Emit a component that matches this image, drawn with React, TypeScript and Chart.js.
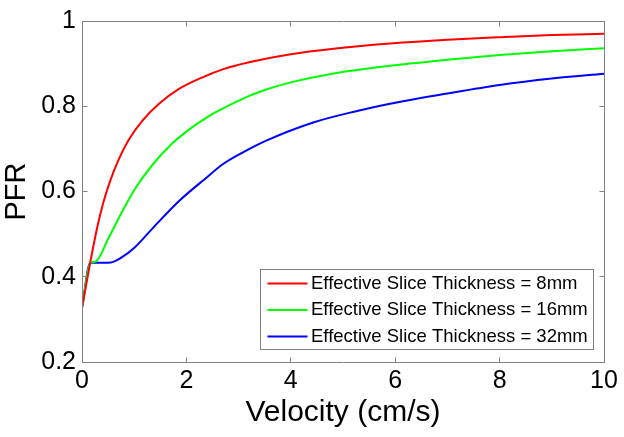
import React, { useEffect, useRef } from 'react';
import { Chart, registerables } from 'chart.js';

Chart.register(...registerables);

// ---- Data ----
const redX = [0, 0.16, 0.29, 0.41, 0.54, 0.7, 0.89, 1.15, 1.47, 1.85, 2.33, 2.71, 3.16, 4.0, 4.82, 5.9, 7.0, 8.0, 9.0, 10];
const redY = [0.327, 0.435, 0.515, 0.575, 0.625, 0.674, 0.72, 0.765, 0.805, 0.84, 0.869, 0.887, 0.902, 0.922, 0.935, 0.947, 0.956, 0.962, 0.967, 0.97];

const greenX = [0, 0.16, 0.25, 0.51, 0.77, 1.02, 1.34, 1.72, 2.07, 2.36, 2.52, 3.16, 3.5, 4.0, 4.82, 5.9, 7.0, 8.0, 9.0, 10];
const greenY = [0.327, 0.433, 0.435, 0.491, 0.553, 0.607, 0.661, 0.712, 0.747, 0.771, 0.783, 0.822, 0.838, 0.856, 0.877, 0.895, 0.909, 0.92, 0.929, 0.936];

const blueX = [0, 0.16, 0.5, 0.6, 0.73, 1.02, 1.4, 1.88, 2.36, 2.71, 3.1, 3.54, 4.43, 5.27, 5.9, 7.0, 8.0, 9.0, 10];
const blueY = [0.327, 0.433, 0.433, 0.435, 0.443, 0.47, 0.52, 0.58, 0.63, 0.665, 0.693, 0.72, 0.762, 0.789, 0.806, 0.83, 0.85, 0.865, 0.876];

const seriesLabels = [
  'Effective Slice Thickness = 8mm',
  'Effective Slice Thickness = 16mm',
  'Effective Slice Thickness = 32mm',
];
const seriesColors = ['#ff0000', '#00ff00', '#0000ff'];

const xTickValues = [0, 2, 4, 6, 8, 10];
const xTickLabels = ['0', '2', '4', '6', '8', '10'];
const yTickValues = [0.2, 0.4, 0.6, 0.8, 1];
const yTickLabels = ['0.2', '0.4', '0.6', '0.8', '1'];

const xTitle = 'Velocity (cm/s)';
const yTitle = 'PFR';

// ---- Styles ----
const FONT = '"Liberation Sans", Arial, Helvetica, sans-serif';
const AXIS_COLOR = '#808080';
const TICK_LEN = 5;

const toPoints = (xs: number[], ys: number[]) => xs.map((x, i) => ({ x, y: ys[i] }));

const boxPlugin = {
  id: 'matlabBox',
  afterDraw(chart: any) {
    const { ctx, chartArea: a, scales } = chart;
    const xs = scales.x;
    const ys = scales.y;
    const L = Math.floor(a.left) + 0.5;
    const R = Math.floor(a.right) + 0.5;
    const T = Math.floor(a.top) + 0.5;
    const B = Math.floor(a.bottom) + 0.5;
    ctx.save();
    ctx.strokeStyle = AXIS_COLOR;
    ctx.lineWidth = 1;
    ctx.beginPath();
    ctx.rect(L, T, R - L, B - T);
    xTickValues.forEach((v) => {
      const px = Math.floor(xs.getPixelForValue(v)) + 0.5;
      ctx.moveTo(px, B);
      ctx.lineTo(px, B - TICK_LEN);
      ctx.moveTo(px, T);
      ctx.lineTo(px, T + TICK_LEN);
    });
    yTickValues.forEach((v) => {
      const py = Math.floor(ys.getPixelForValue(v)) + 0.5;
      ctx.moveTo(L, py);
      ctx.lineTo(L + TICK_LEN, py);
      ctx.moveTo(R, py);
      ctx.lineTo(R - TICK_LEN, py);
    });
    ctx.stroke();

    // Legend box inside the axes (lower right)
    ctx.font = `18.5px ${FONT}`;
    const labels: string[] = chart.data.datasets.map((d: any) => d.label);
    const maxW = Math.max(...labels.map((l) => ctx.measureText(l).width));
    const w = 50.7 + maxW + 6;
    const h = 80;
    const right = a.right - 10;
    const bottom = a.bottom - 13;
    const left = Math.floor(right - w) + 0.5;
    const top = Math.floor(bottom - h) + 0.5;
    ctx.fillStyle = '#ffffff';
    ctx.fillRect(left, top, Math.round(w), h);
    ctx.strokeStyle = AXIS_COLOR;
    ctx.strokeRect(left, top, Math.round(w), h);
    chart.data.datasets.forEach((d: any, i: number) => {
      const y = top + 14 + i * 26.5;
      ctx.strokeStyle = d.borderColor;
      ctx.lineWidth = 2;
      ctx.beginPath();
      ctx.moveTo(left + 7, y);
      ctx.lineTo(left + 47, y);
      ctx.stroke();
      ctx.fillStyle = '#000000';
      ctx.textBaseline = 'middle';
      ctx.textAlign = 'left';
      ctx.fillText(d.label, left + 50.5, y);
    });
    ctx.restore();
  },
};

export default function App() {
  const canvasRef = useRef<HTMLCanvasElement | null>(null);

  useEffect(() => {
    if (!canvasRef.current) return;
    const chart = new Chart(canvasRef.current, {
      type: 'line',
      data: {
        datasets: [
          { label: seriesLabels[0], data: toPoints(redX, redY), borderColor: seriesColors[0] },
          { label: seriesLabels[1], data: toPoints(greenX, greenY), borderColor: seriesColors[1] },
          { label: seriesLabels[2], data: toPoints(blueX, blueY), borderColor: seriesColors[2] },
        ].map((d) => ({
          ...d,
          borderWidth: 2,
          pointRadius: 0,
          fill: false,
          cubicInterpolationMode: 'monotone' as const,
        })),
      },
      options: {
        responsive: false,
        animation: false,
        devicePixelRatio: 1,
        layout: { padding: { top: 17, right: 20, left: 0, bottom: 0 } },
        plugins: {
          legend: { display: false },
          tooltip: { enabled: false },
        },
        scales: {
          x: {
            type: 'linear',
            min: 0,
            max: 10,
            afterBuildTicks: (s: any) => {
              s.ticks = xTickValues.map((v) => ({ value: v }));
            },
            afterFit: (s: any) => {
              s.height = 75;
            },
            grid: { display: false, drawTicks: false },
            border: { display: false },
            ticks: {
              padding: 4,
              color: '#000000',
              maxRotation: 0,
              autoSkip: false,
              font: { family: FONT, size: 25 },
              callback: (_v: any, i: number) => xTickLabels[i],
            },
            title: {
              display: true,
              text: xTitle,
              color: '#000000',
              font: { family: FONT, size: 30 },
              padding: { top: 0, bottom: 6 },
            },
          },
          y: {
            type: 'linear',
            min: 0.2,
            max: 1,
            afterBuildTicks: (s: any) => {
              s.ticks = yTickValues.map((v) => ({ value: v }));
            },
            afterFit: (s: any) => {
              s.width = 82;
            },
            grid: { display: false, drawTicks: false },
            border: { display: false },
            ticks: {
              padding: 6,
              color: '#000000',
              autoSkip: false,
              font: { family: FONT, size: 25 },
              callback: (_v: any, i: number) => yTickLabels[i],
            },
            title: {
              display: true,
              text: yTitle,
              color: '#000000',
              font: { family: FONT, size: 29 },
              padding: { top: 0, bottom: 0 },
            },
          },
        },
      },
      plugins: [boxPlugin],
    });
    return () => chart.destroy();
  }, []);

  return (
    <div style={{ position: 'fixed', left: 0, top: 0, width: 624, height: 437, background: '#ffffff' }}>
      <canvas ref={canvasRef} width={624} height={437} style={{ display: 'block', width: 624, height: 437 }} />
    </div>
  );
}
